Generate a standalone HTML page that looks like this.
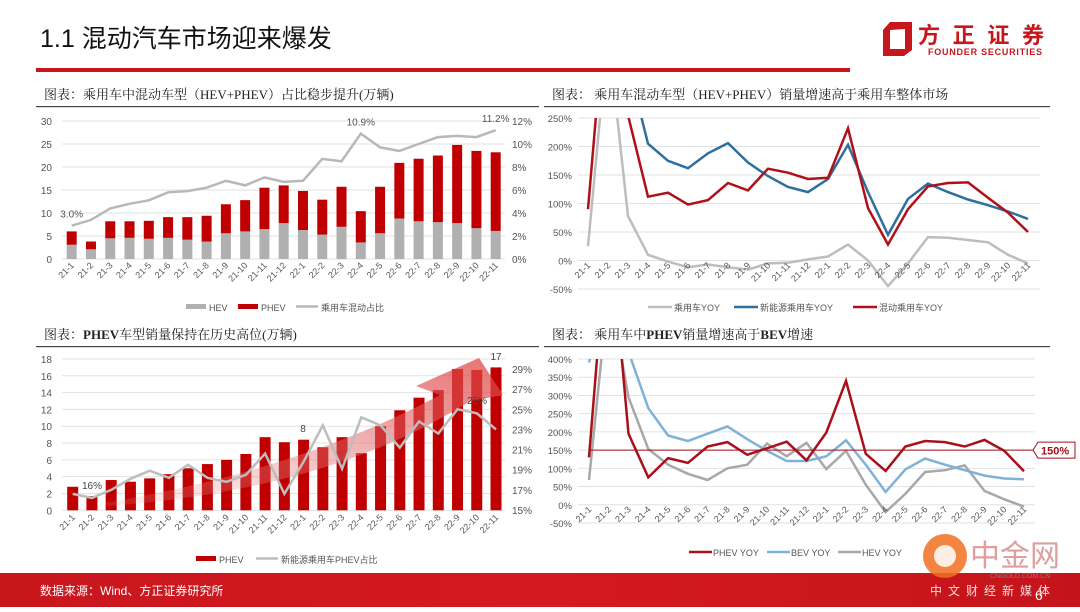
<!DOCTYPE html>
<html><head><meta charset="utf-8">
<style>
html,body{margin:0;padding:0;background:#fff;}
body{width:1080px;height:607px;overflow:hidden;font-family:"Liberation Sans","Noto Sans CJK SC",sans-serif;}
svg text{font-family:"Liberation Sans","Noto Sans CJK SC",sans-serif;}
svg text.ctitle{font-family:"Liberation Serif","Noto Serif CJK SC",serif;}
</style></head>
<body>
<svg id="page" width="1080" height="607" viewBox="0 0 1080 607" xmlns="http://www.w3.org/2000/svg">
<defs>
<linearGradient id="arrowGrad" x1="0" y1="1" x2="1" y2="0">
<stop offset="0" stop-color="#e8a0a0" stop-opacity="0.15"/>
<stop offset="0.6" stop-color="#e06060" stop-opacity="0.55"/>
<stop offset="1" stop-color="#e04040" stop-opacity="0.75"/>
</linearGradient>
<linearGradient id="footGrad" x1="0" y1="0" x2="1" y2="0">
<stop offset="0" stop-color="#c8161d"/><stop offset="0.5" stop-color="#d51920"/><stop offset="1" stop-color="#c4141b"/>
</linearGradient>
<clipPath id="clip2"><rect x="545" y="118" width="500" height="172"/></clipPath>
<clipPath id="clip4"><rect x="545" y="359" width="500" height="165"/></clipPath>
</defs>
<!-- header -->
<text x="40" y="47" font-size="25" fill="#111">1.1 混动汽车市场迎来爆发</text>
<rect x="36" y="68" width="814" height="4" fill="#c8161d"/>
<g>
<path d="M890 22 L912 22 L912 50 L904 56 L883 56 L883 30 Z M890 30 L890 49 L905 49 L905 29 Z" fill="#c8161d" fill-rule="evenodd"/>
<text x="918" y="43" font-size="22" font-weight="bold" fill="#c8161d" textLength="126">方正证券</text>
<text x="928" y="55" font-size="9" font-weight="bold" fill="#c8161d" textLength="114">FOUNDER SECURITIES</text>
</g>
<!-- chart titles -->
<text class="ctitle" x="44" y="99" font-size="13" fill="#222">图表：乘用车中混动车型（HEV+PHEV）占比稳步提升(万辆)</text>
<rect x="36" y="106" width="503" height="1.2" fill="#444"/>
<text class="ctitle" x="552" y="99" font-size="13" fill="#222">图表：   乘用车混动车型（HEV+PHEV）销量增速高于乘用车整体市场</text>
<rect x="544" y="106" width="506" height="1.2" fill="#444"/>
<text class="ctitle" x="44" y="339" font-size="13" fill="#222">图表：<tspan font-weight="bold">PHEV</tspan>车型销量保持在历史高位(万辆)</text>
<rect x="36" y="346" width="503" height="1.2" fill="#444"/>
<text class="ctitle" x="552" y="339" font-size="13" fill="#222">图表：   乘用车中<tspan font-weight="bold">PHEV</tspan>销量增速高于<tspan font-weight="bold">BEV</tspan>增速</text>
<rect x="544" y="346" width="506" height="1.2" fill="#444"/>
<g id="c1"></g>
<g id="c2"></g>
<g id="c3"></g>
<g id="c4"></g>
<!-- footer -->
<rect x="0" y="573" width="1080" height="34" fill="url(#footGrad)"/>
<text x="40" y="595" font-size="12" fill="#fff">数据来源：Wind、方正证券研究所</text>
<g opacity="0.85">
<circle cx="945" cy="556" r="22" fill="#f07020"/>
<circle cx="945" cy="556" r="11" fill="#fff" opacity="0.85"/>
<text x="970" y="566" font-size="30" fill="#c86060" opacity="0.7">中金网</text>
<text x="990" y="578" font-size="7" fill="#888">CNGOLD.COM.CN</text>
<text x="930" y="595" font-size="12" fill="#fff" letter-spacing="6">中文财经新媒体</text>
</g>
<text x="1035" y="600" font-size="14" fill="#fff">6</text>
</svg>
<script>
const NS='http://www.w3.org/2000/svg';
const cats=['21-1','21-2','21-3','21-4','21-5','21-6','21-7','21-8','21-9','21-10','21-11','21-12','22-1','22-2','22-3','22-4','22-5','22-6','22-7','22-8','22-9','22-10','22-11'];
// chart1
const c1Hev=[3.1,2.1,4.5,4.6,4.4,4.6,4.2,3.8,5.6,6.0,6.5,7.8,6.3,5.3,7.0,3.6,5.6,8.8,8.2,8.0,7.8,6.7,6.1];
const c1Phev=[2.9,1.7,3.7,3.6,3.9,4.5,4.9,5.6,6.3,6.8,9.0,8.2,8.5,7.6,8.7,6.8,10.1,12.1,13.6,14.5,17.0,16.8,17.1];
const c1Share=[2.9,3.4,4.4,4.8,5.1,5.8,5.9,6.2,6.8,6.4,7.1,6.7,6.8,8.7,8.5,10.9,9.7,9.4,10.0,10.6,10.7,10.6,11.2];
const c1LeftTicks=[0,5,10,15,20,25,30];
const c1RightTicks=[0,2,4,6,8,10,12];
// chart2
const c2Car=[25,400,78,10,-2,-12,-7,-12,-16,-5,-4,2,7,28,0,-45,-5,41,40,36,32,10,-5];
const c2Nev=[null,null,345,205,175,162,188,206,172,148,129,120,143,203,120,45,108,135,120,107,97,86,73];
const c2Hyb=[90,500,255,112,119,98,106,136,123,161,154,143,145,232,92,28,90,130,136,137,110,84,50];
const c2Ticks=[-50,0,50,100,150,200,250];
// chart3
const c3Phev=[2.8,1.7,3.6,3.4,3.8,4.3,5.0,5.5,6.0,6.7,8.7,8.1,8.4,7.5,8.7,6.8,10.0,11.9,13.4,14.3,16.8,16.7,17.0];
const c3Share=[16.6,16.2,17.0,18.1,18.9,18.2,19.5,18.2,17.8,18.5,20.6,16.6,19.8,23.4,19.1,24.2,23.4,21.2,23.8,22.6,25.0,24.6,23.0];
const c3LeftTicks=[0,2,4,6,8,10,12,14,16,18];
const c3RightTicks=[15,17,19,21,23,25,27,29];
// chart4
const c4Phev=[130,800,195,75,128,115,160,172,137,155,173,122,198,340,140,93,160,175,172,160,178,148,92];
const c4Bev=[390,600,420,265,190,175,195,215,180,148,120,120,133,177,110,35,97,127,110,95,80,72,70];
const c4Hev=[68,600,295,153,110,85,68,100,110,168,133,170,98,148,55,-20,30,90,95,108,38,15,-5];
const c4Ticks=[-50,0,50,100,150,200,250,300,350,400];
const c4Ref=150;

function el(tag,attrs,parent){const e=document.createElementNS(NS,tag);for(const k in attrs)e.setAttribute(k,attrs[k]);parent.appendChild(e);return e;}
function lin(d0,d1,r0,r1){return v=>r0+(v-d0)*(r1-r0)/(d1-d0);}
function pathFrom(vals,x,y){let d='';let pen=false;vals.forEach((v,i)=>{if(v===null){pen=false;return;}d+=(pen?'L':'M')+x(i).toFixed(1)+' '+y(v).toFixed(1)+' ';pen=true;});return d;}
function xLabels(g,x,yTop,fs){cats.forEach((c,i)=>{const t=el('text',{x:x(i)+3,y:yTop,'font-size':fs,fill:'#555','text-anchor':'end',transform:'rotate(-45 '+(x(i)+3)+' '+yTop+')'},g);t.textContent=c;

});}

// ---- chart 1 ----
(function(){const g=document.getElementById('c1');
const x=lin(0,22,71.7,495.7), y=lin(0,30,259,121), yr=lin(0,12,259,121);
c1LeftTicks.forEach(v=>{const l=el('line',{x1:62,x2:505,y1:y(v),y2:y(v),stroke:'#e2e2e2','stroke-width':1},g);


const t=el('text',{x:52,y:y(v)+4,'font-size':10,fill:'#555','text-anchor':'end'},g);t.textContent=v;

});
c1RightTicks.forEach(v=>{const t=el('text',{x:512,y:yr(v)+4,'font-size':10,fill:'#555'},g);t.textContent=v+'%';

});
cats.forEach((c,i)=>{const b=el('rect',{x:x(i)-5,y:y(c1Hev[i]),width:10,height:y(0)-y(c1Hev[i]),fill:'#b0b0b0'},g);


const p=el('rect',{x:x(i)-5,y:y(c1Hev[i]+c1Phev[i]),width:10,height:y(c1Hev[i])-y(c1Hev[i]+c1Phev[i]),fill:'#c00000'},g);

});
const ln=el('path',{d:pathFrom(c1Share,x,yr),fill:'none',stroke:'#b8b8b8','stroke-width':2.5},g);


[[0,'3.0%'],[15,'10.9%'],[22,'11.2%']].forEach(([i,s])=>{const t=el('text',{x:x(i),y:yr(c1Share[i])-8,'font-size':10,fill:'#555','text-anchor':'middle'},g);t.textContent=s;

});
xLabels(g,x,266,9);
const lg=el('g',{},g);


el('rect',{x:186,y:304,width:20,height:5,fill:'#b0b0b0'},lg);el('text',{x:209,y:311,'font-size':9,fill:'#555'},lg).textContent='HEV';
el('rect',{x:238,y:304,width:20,height:5,fill:'#c00000'},lg);el('text',{x:261,y:311,'font-size':9,fill:'#555'},lg).textContent='PHEV';
el('line',{x1:296,x2:318,y1:306.5,y2:306.5,stroke:'#b8b8b8','stroke-width':2.5},lg);el('text',{x:321,y:311,'font-size':9,fill:'#555'},lg).textContent='乘用车混动占比';
})();

// ---- chart 2 ----
(function(){const g=document.getElementById('c2');
const x=lin(0,22,588,1028), y=lin(-50,250,289,118);
c2Ticks.forEach(v=>{const l=el('line',{x1:578,x2:1040,y1:y(v),y2:y(v),stroke:'#e2e2e2','stroke-width':1},g);


const t=el('text',{x:572,y:y(v)+4,'font-size':9.5,fill:'#555','text-anchor':'end'},g);t.textContent=v+'%';

});
const cg=el('g',{'clip-path':'url(#clip2)'},g);
const a=el('path',{d:pathFrom(c2Car,x,y),fill:'none',stroke:'#bdbdbd','stroke-width':2.5},cg);


const b=el('path',{d:pathFrom(c2Nev,x,y),fill:'none',stroke:'#2e6f9e','stroke-width':2.5},cg);


const c=el('path',{d:pathFrom(c2Hyb,x,y),fill:'none',stroke:'#b0101a','stroke-width':2.5},cg);


xLabels(g,x,266,9);
const lg=el('g',{},g);


el('line',{x1:648,x2:672,y1:307,y2:307,stroke:'#bdbdbd','stroke-width':2.5},lg);el('text',{x:674,y:311,'font-size':9,fill:'#555'},lg).textContent='乘用车YOY';
el('line',{x1:734,x2:758,y1:307,y2:307,stroke:'#2e6f9e','stroke-width':2.5},lg);el('text',{x:760,y:311,'font-size':9,fill:'#555'},lg).textContent='新能源乘用车YOY';
el('line',{x1:853,x2:877,y1:307,y2:307,stroke:'#b0101a','stroke-width':2.5},lg);el('text',{x:879,y:311,'font-size':9,fill:'#555'},lg).textContent='混动乘用车YOY';
})();

// ---- chart 3 ----
(function(){const g=document.getElementById('c3');
const x=lin(0,22,72.7,496), y=lin(0,18,510.3,359), yr=lin(15,29,510,369);
c3LeftTicks.forEach(v=>{const l=el('line',{x1:62,x2:505,y1:y(v),y2:y(v),stroke:'#e2e2e2','stroke-width':1},g);


const t=el('text',{x:52,y:y(v)+4,'font-size':10,fill:'#555','text-anchor':'end'},g);t.textContent=v;

});
c3RightTicks.forEach(v=>{const t=el('text',{x:512,y:yr(v)+4,'font-size':10,fill:'#555'},g);t.textContent=v+'%';

});
cats.forEach((c,i)=>{const b=el('rect',{x:x(i)-5.5,y:y(c3Phev[i]),width:11,height:y(0)-y(c3Phev[i]),fill:'#c00000'},g);

});
const ar=el('path',{d:'M104 503 Q300 470 440 395 L416 386 L479 358 L503 395 L470 401 Q330 490 108 506 Z',fill:'url(#arrowGrad)'},g);


const ln=el('path',{d:pathFrom(c3Share,x,yr),fill:'none',stroke:'#bdbdbd','stroke-width':2.5},g);


[[92,489,'16%'],[303,432,'8'],[496,360,'17'],[477,404,'25%']].forEach(([a,b,s])=>{const t=el('text',{x:a,y:b,'font-size':10,fill:'#444','text-anchor':'middle'},g);t.textContent=s;

});
xLabels(g,x,518,9);
const lg=el('g',{},g);


el('rect',{x:196,y:556,width:20,height:5,fill:'#c00000'},lg);el('text',{x:219,y:563,'font-size':9,fill:'#555'},lg).textContent='PHEV';
el('line',{x1:256,x2:278,y1:558.5,y2:558.5,stroke:'#bdbdbd','stroke-width':2.5},lg);el('text',{x:281,y:563,'font-size':9,fill:'#555'},lg).textContent='新能源乘用车PHEV占比';
})();

// ---- chart 4 ----
(function(){const g=document.getElementById('c4');
const x=lin(0,22,589,1024), y=lin(-50,400,523,359);
c4Ticks.forEach(v=>{const l=el('line',{x1:578,x2:1035,y1:y(v),y2:y(v),stroke:'#e2e2e2','stroke-width':1},g);


const t=el('text',{x:572,y:y(v)+4,'font-size':9.5,fill:'#555','text-anchor':'end'},g);t.textContent=v+'%';

});
const cg=el('g',{'clip-path':'url(#clip4)'},g);
const h=el('path',{d:pathFrom(c4Hev,x,y),fill:'none',stroke:'#a8a8a8','stroke-width':2.5},cg);


const b=el('path',{d:pathFrom(c4Bev,x,y),fill:'none',stroke:'#7fb2d8','stroke-width':2.5},cg);


const p=el('path',{d:pathFrom(c4Phev,x,y),fill:'none',stroke:'#a8101a','stroke-width':2.5},cg);


const rl=el('line',{x1:589,x2:1033,y1:y(c4Ref),y2:y(c4Ref),stroke:'#a0101a','stroke-width':1},g);


const rb=el('path',{d:'M1033 '+y(c4Ref)+' l5 -8 h37 v16 h-37 z',fill:'#fff',stroke:'#a0101a','stroke-width':1},g);


const rt=el('text',{x:1041,y:y(c4Ref)+4.5,'font-size':11,'font-weight':'bold',fill:'#a0101a'},g);rt.textContent=c4Ref+'%';


xLabels(g,x,510,9);
const lg=el('g',{},g);


el('line',{x1:689,x2:712,y1:552,y2:552,stroke:'#a8101a','stroke-width':2.5},lg);el('text',{x:713,y:556,'font-size':9,fill:'#555'},lg).textContent='PHEV YOY';
el('line',{x1:767,x2:790,y1:552,y2:552,stroke:'#7fb2d8','stroke-width':2.5},lg);el('text',{x:791,y:556,'font-size':9,fill:'#555'},lg).textContent='BEV YOY';
el('line',{x1:838,x2:861,y1:552,y2:552,stroke:'#a8a8a8','stroke-width':2.5},lg);el('text',{x:862,y:556,'font-size':9,fill:'#555'},lg).textContent='HEV YOY';
})();
</script>
</body></html>
